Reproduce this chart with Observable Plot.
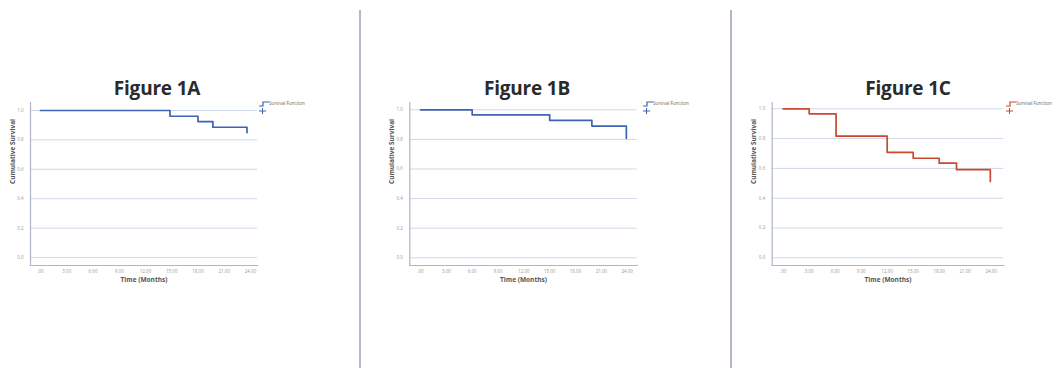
<!DOCTYPE html>
<html>
<head>
<meta charset="utf-8">
<script src="https://cdn.jsdelivr.net/npm/d3@7"></script>
<script src="https://cdn.jsdelivr.net/npm/@observablehq/plot@0.6"></script>
<style>
  html, body { margin: 0; padding: 0; background: #fff; }
  #root { position: relative; width: 1056px; height: 368px; overflow: hidden; background: #fff; font-family: "Open Sans", Lato, sans-serif; }
  .panel { position: absolute; top: 0; }
  .title { position: absolute; font-family: "Open Sans", sans-serif; font-weight: 700; font-size: 19px; color: #2b2b2b; transform: translate(-50%, -50%); white-space: nowrap; letter-spacing: -0.2px; }
  .sep { position: absolute; top: 10px; bottom: 0; width: 2px; background: #b4b7c3; }
  .legend { position: absolute; font-size: 4.5px; color: #666; white-space: nowrap; line-height: 6px; }
  .legend svg { vertical-align: middle; }
</style>
</head>
<body>
<div id="root"></div>
<script>
// ---- data ----
const panelTitles = ["Figure 1A", "Figure 1B", "Figure 1C"];
const timesA = [0, 14.8, 18, 19.7, 23.6];
const survA  = [1.0, 0.961, 0.925, 0.886, 0.85];
const timesB = [0, 6, 15, 19.9, 23.9];
const survB  = [1.0, 0.966, 0.928, 0.89, 0.808];
const timesC = [0, 3, 6.1, 12, 15, 18, 20, 23.9];
const survC  = [1.0, 0.966, 0.816, 0.707, 0.668, 0.635, 0.592, 0.512];
const xTicks = [0, 3, 6, 9, 12, 15, 18, 21, 24];
const xTickLabels = [".00", "3.00", "6.00", "9.00", "12.00", "15.00", "18.00", "21.00", "24.00"];
const yTicks = [0, 0.2, 0.4, 0.6, 0.8, 1.0];
const yTickLabels = ["0.0", "0.2", "0.4", "0.6", "0.8", "1.0"];
const xTitle = "Time (Months)";
const yTitle = "Cumulative Survival";
const legendLabel = "Survival Function";
const seriesColors = ["#3f63b3", "#3f63b3", "#c9482f"];

const series = [
  timesA.map((t, i) => ({t, s: survA[i]})),
  timesB.map((t, i) => ({t, s: survB[i]})),
  timesC.map((t, i) => ({t, s: survC[i]}))
];

// ---- layout ----
const layouts = [
  {left: 0,   width: 340, mL: 30,   mR: 83,   iL: 10,   iR: 7,    iT: 8,   iB: 8,   titleX: 157, legX: 259},
  {left: 360, width: 340, mL: 49.3, mR: 63.3, iL: 10.7, iR: 10,   iT: 7.3, iB: 7.7, titleX: 527, legX: 643},
  {left: 732, width: 324, mL: 39.7, mR: 52.7, iL: 11,   iR: 12.6, iT: 6.3, iB: 7.7, titleX: 908, legX: 1006}
];

const root = document.getElementById("root");

layouts.forEach((L, k) => {
  const xLab = d => xTickLabels[xTicks.indexOf(d)];
  const yLab = d => yTickLabels[yTicks.findIndex(v => Math.abs(v - d) < 1e-9)];
  const plot = Plot.plot({
    width: L.width,
    height: 368,
    marginLeft: L.mL,
    marginRight: L.mR,
    marginTop: 102,
    marginBottom: 103,
    style: {fontFamily: "'Open Sans', sans-serif", background: "transparent", overflow: "visible"},
    x: {domain: [0, 24], insetLeft: L.iL, insetRight: L.iR},
    y: {domain: [0, 1], insetTop: L.iT, insetBottom: L.iB},
    marks: [
      Plot.gridY(yTicks, {stroke: "#cfd8e8", strokeOpacity: 1, strokeWidth: 1}),
      Plot.frame({anchor: "left", stroke: "#aeb5c6", strokeWidth: 1.2}),
      Plot.frame({anchor: "bottom", stroke: "#aeb5c6", strokeWidth: 1.2}),
      Plot.axisY({ticks: yTicks, tickFormat: yLab, tickSize: 0, tickPadding: 7, fontSize: 4.5, fill: "#999", label: null}),
      Plot.axisX({ticks: xTicks, tickFormat: xLab, tickSize: 0, tickPadding: 4, fontSize: 4.5, fill: "#999", label: null}),
      Plot.text([yTitle], {frameAnchor: "left", rotate: -90, dx: -18, fontSize: 6.5, fontWeight: "bold", fill: "#555"}),
      Plot.text([xTitle], {frameAnchor: "bottom", dy: 16, fontSize: 6.5, fontWeight: "bold", fill: "#555"}),
      Plot.line(series[k], {x: "t", y: "s", curve: "step-after", stroke: seriesColors[k], strokeWidth: 1.7})
    ]
  });
  plot.classList.add("panel");
  plot.style.left = L.left + "px";
  root.appendChild(plot);

  const title = document.createElement("div");
  title.className = "title";
  title.textContent = panelTitles[k];
  title.style.left = L.titleX + "px";
  title.style.top = "88px";
  root.appendChild(title);

  const leg = document.createElement("div");
  leg.className = "legend";
  leg.style.left = L.legX + "px";
  leg.style.top = "100px";
  const c = seriesColors[k];
  leg.innerHTML =
    `<svg width="10" height="6"><path d="M0,5H4V1H10" fill="none" stroke="${c}" stroke-width="1.2"/></svg>` +
    `<span>${legendLabel}</span><br>` +
    `<svg width="10" height="6"><path d="M0,3H7M3.5,0V6" fill="none" stroke="${c}" stroke-width="1"/></svg>`;
  root.appendChild(leg);
});

[359, 730].forEach(x => {
  const s = document.createElement("div");
  s.className = "sep";
  s.style.left = x + "px";
  root.appendChild(s);
});
</script>
</body>
</html>
